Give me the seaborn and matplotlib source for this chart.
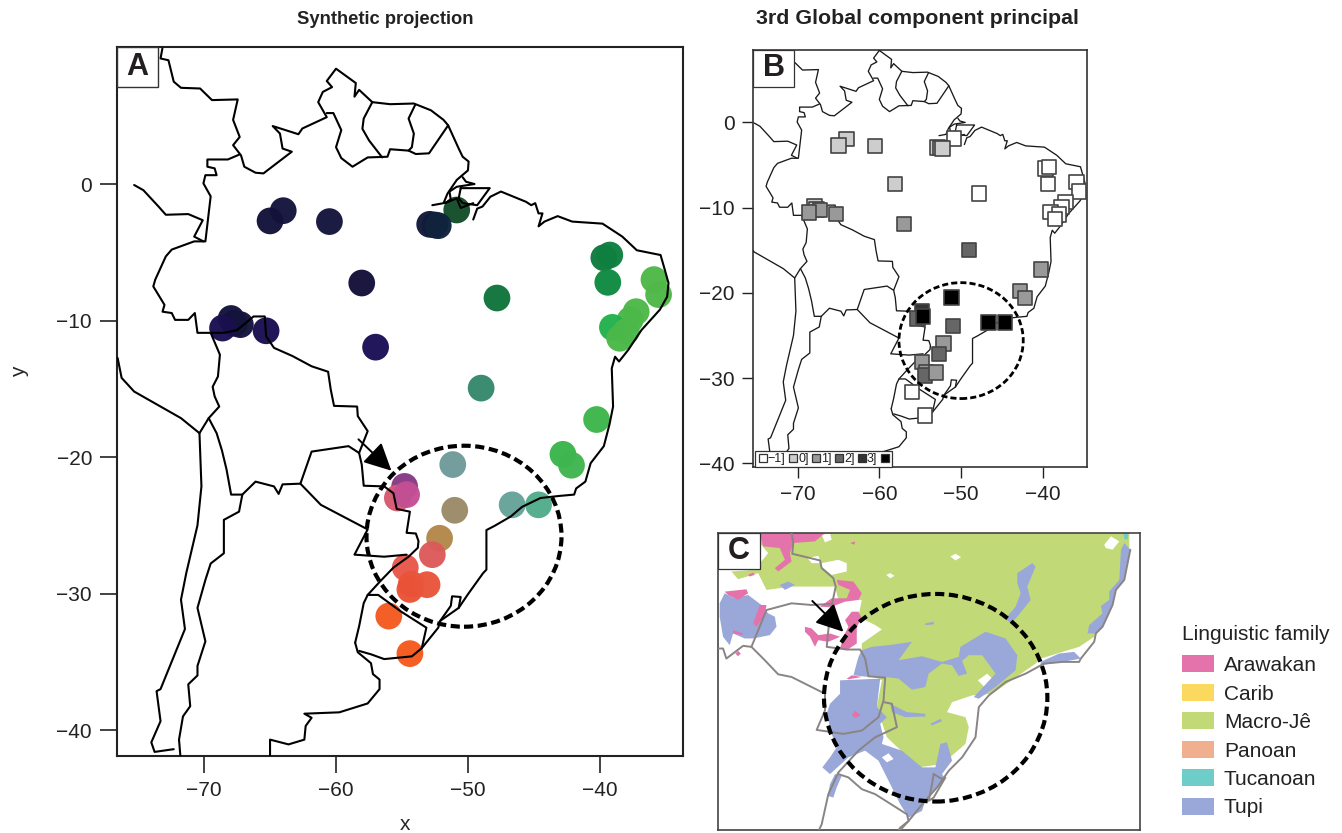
import matplotlib
matplotlib.use("Agg")
import matplotlib.pyplot as plt
import seaborn as sns
from matplotlib.lines import Line2D
from matplotlib.patches import Ellipse, Patch, Rectangle

W, H = 1342, 833

# sampled sites: position, colour in panel A, class in panel B
site_lon = [-64.0, -65.0, -60.5, -50.85, -52.9, -52.5, -52.25, -39.7, -39.25, -39.4, -58.05,
            -47.8, -35.9, -35.55, -37.25, -37.7, -39.05, -38.0, -38.5, -67.95, -67.7,
            -67.25, -68.6, -65.3, -57.0, -49.0, -40.25, -42.8, -42.15, -51.15, -54.8,
            -55.35, -54.65, -51.0, -46.65, -44.65, -52.15, -52.7, -54.75, -54.3, -54.4,
            -53.1, -56.0, -54.4]
site_lat = [-1.95, -2.7, -2.75, -1.9, -2.95, -3.0, -3.05, -5.4, -5.2, -7.2, -7.25,
            -8.35, -7.0, -8.1, -9.35, -9.95, -10.5, -10.8, -11.3, -9.85, -10.2,
            -10.3, -10.55, -10.75, -11.95, -14.95, -17.25, -19.8, -20.6, -20.55, -22.15,
            -23.0, -22.75, -23.9, -23.5, -23.5, -25.95, -27.15, -28.1, -29.3, -29.7,
            -29.35, -31.65, -34.4]
site_colour = ["#14143c", "#12123a", "#14143c", "#134d29", "#101a3a", "#101c3a", "#10233d",
               "#0f7a3e", "#0f8040", "#0e8a42", "#140f38", "#10743c", "#4fb848", "#4fb848",
               "#4db848", "#4bb849", "#22b14c", "#4bb849", "#4bb849", "#12123c", "#12123c",
               "#14143c", "#1a0f50", "#1a0f50", "#190f55", "#34886c", "#3db54a", "#3ab54a",
               "#3fb54f", "#6f9a9b", "#873b85", "#d55a70", "#c34f95", "#9c8a68", "#66a39a",
               "#52ad8c", "#b3874a", "#dc5a5a", "#e8584a", "#e9553c", "#ea5236", "#e9553a",
               "#f35a20", "#f55a1e"]
site_class = [1, 1, 1, 0, 1, 1, 1, 0, 0, 0, 1, 0, 0, 0, 0, 0, 0, 0, 0, 1, 1,
              2, 2, 2, 2, 3, 2, 2, 2, 5, 4, 3, 5, 3, 5, 5, 2, 3, 2, 2, 3, 2, 0, 0]
class_labels = ["\u22121]", "0]", "1]", "2]", "3]", ""]
class_colours = ["#ffffff", "#cdcdcd", "#999999", "#666666", "#333333", "#000000"]

# country borders and coast, lon/lat
north_border = [(-73.16, 9.93), (-73.3, 9.2), (-72.7, 9.07), (-72.3, 7.5), (-71.75, 7.05), (-70.3, 7.0),
                (-69.4, 6.15), (-67.45, 6.2), (-67.8, 4.7), (-67.3, 3.45), (-67.8, 2.85), (-67.2, 2.1),
                (-66.95, 1.27), (-66.1, 0.83), (-65.5, 0.78), (-63.35, 2.37), (-64.05, 2.6), (-64.25, 3.7),
                (-64.8, 4.25), (-62.85, 3.65), (-62.55, 4.07), (-60.7, 4.9), (-61.35, 6.0), (-61.0, 6.75),
                (-60.3, 7.1), (-60.7, 7.55), (-60.0, 8.45), (-58.5, 7.4), (-58.6, 6.4), (-58.25, 6.9),
                (-57.25, 6.0), (-55.9, 5.85), (-54.1, 5.9), (-52.8, 5.4), (-51.85, 4.7), (-51.5, 4.3),
                (-50.7, 2.6), (-50.4, 2.0), (-49.95, 1.65), (-50.0, 1.0), (-50.85, 0.3), (-51.55, -0.7),
                (-51.85, -1.4), (-52.7, -1.55)]
guianas_south = [(-60.7, 5.2), (-60.2, 5.2), (-59.6, 3.95), (-60.0, 2.7), (-59.6, 1.9), (-58.75, 1.27),
                 (-57.6, 1.95), (-56.1, 2.0), (-55.9, 2.55), (-54.5, 2.45), (-53.95, 2.2), (-52.95, 2.25),
                 (-51.5, 4.3)]
guyana_suriname = [(-57.25, 6.0), (-57.9, 4.8), (-58.0, 4.05), (-57.5, 3.2), (-56.5, 1.95)]
suriname_guiana = [(-54.0, 5.8), (-54.5, 4.8), (-54.1, 3.7), (-54.25, 2.7), (-54.5, 2.45)]
marajo = [(-50.55, -0.3), (-48.35, -0.3), (-49.3, -1.55), (-50.4, -1.4), (-50.7, -1.05), (-50.55, -0.3)]
amazon_mouth = [(-50.4, 0.5), (-50.15, 0.17), (-49.5, 0.0), (-50.85, -0.2), (-51.4, -0.55), (-51.3, -1.15),
                (-51.75, -1.4), (-50.85, -1.05), (-50.55, -1.75), (-49.6, -1.4)]
brazil_coast = [(-49.6, -2.6), (-49.3, -1.8), (-48.9, -1.65), (-48.3, -0.93), (-47.5, -0.55), (-45.6, -1.3),
                (-45.2, -1.55), (-44.9, -1.4), (-44.65, -2.15), (-44.35, -2.15), (-44.65, -3.1), (-44.2, -2.75),
                (-43.2, -2.35), (-42.1, -2.75), (-39.8, -2.9), (-38.3, -3.85), (-37.2, -4.85), (-35.4, -5.2),
                (-35.0, -6.55), (-34.8, -7.25), (-34.9, -8.25), (-35.45, -9.2), (-36.85, -10.7), (-37.85, -12.15),
                (-38.55, -13.0), (-38.85, -12.65), (-39.1, -13.5), (-39.0, -16.3), (-39.27, -17.6), (-39.7, -19.2),
                (-40.7, -20.45), (-41.1, -21.8), (-41.8, -22.3), (-41.95, -22.75), (-43.1, -22.85), (-44.5, -23.0),
                (-45.9, -23.65), (-46.75, -24.35), (-48.0, -25.05), (-48.6, -25.35), (-48.6, -28.25), (-48.85, -28.5),
                (-50.0, -30.05), (-50.7, -31.05), (-52.1, -32.0), (-52.25, -32.5), (-53.5, -34.0), (-54.25, -34.6),
                (-56.35, -34.8), (-57.35, -34.45), (-58.25, -34.2)]
argentina_coast = [(-58.55, -33.6), (-58.35, -34.3), (-57.35, -35.1), (-57.2, -35.9), (-56.7, -36.3), (-56.7, -37.0),
                   (-57.6, -38.05), (-59.75, -38.7), (-62.4, -38.8), (-61.85, -39.1), (-62.3, -39.7), (-62.4, -40.7),
                   (-63.6, -41.05), (-65.0, -40.7), (-65.0, -41.85)]
uruguay_border = [(-58.55, -33.6), (-58.25, -32.4), (-57.9, -30.7), (-57.6, -30.1), (-56.8, -30.1), (-55.1, -31.3),
                  (-53.15, -32.5), (-53.5, -34.0)]
lagoon = [(-52.1, -32.0), (-51.3, -30.9), (-51.2, -30.2), (-50.55, -30.25), (-50.7, -31.05)]
west_brazil = [(-57.6, -30.1), (-56.65, -29.1), (-55.65, -28.1), (-54.5, -27.3), (-53.8, -26.65), (-53.75, -26.15),
               (-53.95, -25.6), (-54.65, -25.55), (-54.4, -24.0), (-55.4, -23.8), (-55.65, -22.65), (-56.35, -22.15),
               (-57.9, -22.1), (-58.05, -20.55), (-58.25, -19.7), (-57.6, -18.1), (-58.35, -17.0), (-58.4, -16.3),
               (-60.15, -16.25), (-60.4, -15.05), (-60.6, -13.75), (-61.85, -13.35), (-63.3, -12.6), (-64.7, -12.0),
               (-65.3, -11.15), (-65.4, -9.7), (-66.25, -9.7), (-67.5, -10.7), (-68.5, -10.9), (-70.5, -10.9),
               (-70.7, -9.45), (-71.2, -9.95), (-72.2, -9.95), (-72.45, -9.45), (-73.15, -9.35), (-73.0, -8.85),
               (-73.85, -7.5), (-73.7, -7.0), (-72.9, -5.3), (-72.45, -4.8), (-70.75, -4.2), (-69.9, -4.2),
               (-69.5, -0.9), (-70.05, 0.05), (-69.9, 0.65), (-69.05, 0.65), (-69.2, 1.15), (-69.75, 1.27),
               (-69.75, 1.8), (-68.2, 1.8), (-67.35, 2.15)]
peru_colombia = [(-75.3, -0.07), (-74.6, -0.45), (-73.45, -1.65), (-72.9, -2.25), (-71.2, -2.2), (-70.1, -2.65),
                 (-70.75, -3.85), (-70.05, -4.2)]
bolivia_west = [(-69.5, -10.9), (-68.8, -12.5), (-68.95, -14.1), (-69.35, -14.85), (-69.2, -15.55), (-68.85, -16.3),
                (-69.65, -17.15), (-69.05, -18.25), (-68.65, -19.5), (-68.3, -20.9), (-67.95, -22.75), (-67.1, -22.75),
                (-66.1, -21.8), (-64.7, -22.15), (-64.35, -22.7), (-64.05, -22.0), (-62.7, -21.95), (-61.85, -19.6),
                (-59.05, -19.2), (-58.25, -19.7)]
paraguay_south = [(-62.7, -21.95), (-61.15, -23.5), (-57.6, -25.3), (-58.25, -26.5), (-58.6, -27.15), (-56.35, -27.3),
                  (-54.65, -27.15)]
andes_border = [(-67.1, -22.75), (-67.35, -24.0), (-68.5, -24.6), (-68.5, -27.05), (-69.5, -27.8), (-69.9, -29.0),
                (-70.5, -31.05), (-69.9, -33.5), (-70.5, -35.3), (-70.5, -36.0), (-71.2, -36.65), (-71.05, -38.25),
                (-71.6, -39.0), (-71.9, -40.7), (-71.8, -41.85)]
chile_coast = [(-70.35, -18.25), (-70.2, -22.15), (-70.5, -25.0), (-71.35, -28.5), (-71.75, -30.45), (-71.45, -32.6),
               (-73.3, -37.0), (-73.6, -37.15), (-73.3, -39.35), (-74.0, -40.9), (-73.75, -41.6), (-72.3, -41.4)]
peru_coast = [(-76.55, -12.75), (-76.25, -14.2), (-75.3, -15.2), (-71.75, -17.15), (-70.35, -18.25), (-69.65, -17.15)]
borders = [north_border, guianas_south, guyana_suriname, suriname_guiana, marajo, amazon_mouth, brazil_coast,
           argentina_coast, uruguay_border, lagoon, west_brazil, peru_colombia, bolivia_west, paraguay_south,
           andes_border, chile_coast, peru_coast]

# panel C language areas
macro_je = [(-61.7, -15.55), (-61.2, -16.15), (-62.0, -17.15), (-63.4, -17.25), (-63.0, -17.71), (-61.8, -17.35),
            (-61.5, -17.95), (-61.3, -18.35), (-59.8, -18.15), (-57.2, -18.15), (-57.0, -18.95), (-55.6, -18.95),
            (-55.8, -19.95), (-54.8, -20.45), (-54.4, -20.71), (-55.6, -21.55), (-55.6, -23.15), (-54.4, -23.75),
            (-54.7, -25.35), (-54.1, -27.15), (-52.2, -28.95), (-50.8, -28.75), (-49.4, -27.55), (-49.2, -26.55),
            (-49.4, -25.95), (-50.5, -25.65), (-50.2, -25.05), (-49.0, -24.65), (-47.8, -24.55), (-45.2, -22.75),
            (-44.9, -22.45), (-42.6, -21.75), (-41.7, -21.15), (-41.0, -19.95), (-40.6, -18.45), (-40.0, -17.75),
            (-39.6, -15.95), (-39.6, -14.95), (-61.6, -14.95)]
blank_areas = [
    [(-50.3, -16.35), (-50.0, -16.19), (-49.66, -16.39), (-50.0, -16.59)],
    [(-54.14, -17.45), (-53.9, -17.35), (-53.64, -17.51), (-53.9, -17.65)],
    [(-41.1, -15.65), (-40.7, -15.15), (-40.2, -15.45), (-40.6, -15.95), (-41.0, -15.85)],
    [(-58.84, -16.45), (-58.2, -16.31), (-58.04, -16.75), (-58.6, -16.75)],
    [(-58.0, -16.75), (-57.0, -16.55), (-56.5, -16.75), (-56.5, -17.25), (-57.4, -17.45), (-58.0, -16.95)],
    [(-48.66, -23.75), (-48.1, -23.35), (-47.7, -23.75), (-48.1, -24.31)],
    [(-46.7, -22.91), (-46.4, -22.65), (-46.4, -22.85), (-46.6, -22.99)],
    [(-58.0, -15.05), (-57.5, -14.99), (-57.4, -15.35), (-57.8, -15.51)],
]
tupi = [
    [(-56.1, -23.45), (-55.8, -22.35), (-55.6, -21.95), (-55.0, -21.75), (-54.0, -21.65), (-52.6, -21.45),
     (-53.4, -22.55), (-52.0, -22.31), (-50.8, -22.65), (-49.8, -22.35), (-49.7, -21.75), (-48.2, -20.85),
     (-47.0, -21.25), (-46.3, -22.25), (-46.4, -23.15), (-47.6, -24.15), (-48.6, -24.85), (-48.9, -24.75),
     (-47.6, -23.35), (-48.4, -22.25), (-49.2, -22.25), (-49.6, -22.59), (-49.3, -23.35), (-49.8, -23.49),
     (-50.2, -22.85), (-50.8, -22.75), (-51.6, -23.35), (-51.8, -24.15), (-52.6, -24.31), (-53.4, -23.65),
     (-54.2, -23.55), (-55.2, -23.55)],
    [(-56.9, -23.75), (-54.5, -23.65), (-54.7, -25.35), (-54.1, -25.95), (-54.5, -26.35), (-54.3, -27.15),
     (-54.4, -27.55), (-53.2, -27.95), (-52.0, -28.95), (-51.2, -28.95), (-50.9, -27.55), (-50.5, -27.45),
     (-50.2, -28.55), (-50.8, -29.35), (-50.6, -29.65), (-51.8, -30.95), (-52.0, -31.55), (-52.8, -31.95),
     (-53.3, -31.15), (-54.2, -29.35), (-54.6, -28.55), (-55.4, -27.95), (-56.4, -28.35), (-57.5, -29.35),
     (-57.96, -28.95), (-57.5, -28.35), (-57.1, -27.75), (-57.4, -26.95), (-57.7, -25.75), (-57.5, -25.15),
     (-56.9, -24.55)],
    [(-46.3, -17.35), (-45.4, -16.75), (-45.2, -16.95), (-45.7, -18.15), (-45.5, -18.95), (-46.3, -19.95),
     (-46.7, -20.35), (-47.0, -20.05), (-46.4, -19.35), (-46.1, -18.55), (-46.3, -17.95)],
    [(-39.9, -15.55), (-39.54, -15.95), (-39.9, -17.75), (-40.4, -18.35), (-40.6, -19.25), (-41.2, -20.55),
     (-41.6, -20.95), (-42.1, -20.95), (-42.0, -20.45), (-41.2, -19.75), (-41.3, -19.31), (-40.8, -18.95),
     (-40.8, -18.45), (-40.2, -17.75), (-40.1, -15.95)],
    [(-44.9, -22.65), (-43.8, -22.15), (-42.9, -22.05), (-42.5, -22.45), (-43.6, -22.65), (-44.9, -22.85)],
    [(-64.1, -19.15), (-63.8, -18.55), (-63.2, -18.85), (-62.4, -18.65), (-61.6, -19.25), (-61.2, -19.75),
     (-60.8, -19.95), (-60.7, -20.55), (-61.1, -21.05), (-62.1, -21.25), (-62.6, -21.25), (-63.3, -20.95),
     (-63.5, -21.65), (-63.9, -21.15), (-64.1, -19.95)],
    [(-60.5, -18.05), (-60.0, -17.85), (-59.6, -18.05), (-60.2, -18.35)],
    [(-51.8, -20.35), (-51.3, -20.25), (-51.3, -20.41), (-51.8, -20.45)],
    [(-53.9, -25.15), (-52.9, -25.65), (-51.8, -25.75), (-51.8, -25.91), (-53.0, -25.95), (-53.8, -25.65)],
    [(-51.5, -26.35), (-50.9, -26.05), (-50.8, -26.19), (-51.4, -26.45)],
    [(-57.2, -29.35), (-56.8, -29.45), (-57.1, -30.15), (-57.3, -30.75), (-57.64, -30.65), (-57.5, -29.95)],
]
tupi_hole = [(-54.4, -28.35), (-54.0, -28.11), (-53.7, -28.45), (-54.1, -28.65)]
arawakan = [
    [(-61.7, -14.95), (-57.8, -14.95), (-58.4, -15.45), (-59.7, -15.55), (-59.9, -16.15), (-59.8, -16.65),
     (-60.6, -17.25), (-60.8, -17.05), (-60.2, -16.55), (-60.5, -15.85), (-61.5, -15.75)],
    [(-57.1, -17.75), (-56.1, -17.85), (-55.6, -18.55), (-55.8, -18.95), (-56.6, -19.05), (-57.5, -19.39),
     (-58.1, -19.35), (-57.4, -18.85), (-56.5, -18.85), (-56.3, -18.35), (-57.0, -18.05)],
    [(-63.8, -18.45), (-62.5, -18.31), (-62.4, -18.55), (-63.0, -18.95), (-63.6, -18.65)],
    [(-61.7, -19.25), (-61.3, -19.25), (-61.4, -19.85), (-61.9, -20.55), (-62.1, -20.35)],
    [(-63.3, -20.75), (-62.7, -20.95), (-62.8, -21.05), (-63.3, -20.95)],
    [(-56.6, -20.15), (-56.2, -19.65), (-55.8, -19.65), (-55.6, -20.05), (-55.9, -20.55), (-55.9, -21.55),
     (-56.5, -21.95), (-56.9, -21.85), (-56.7, -21.15), (-56.4, -20.55)],
    [(-59.0, -20.55), (-58.6, -20.65), (-58.2, -21.05), (-57.5, -20.95), (-56.9, -21.15), (-57.6, -21.45),
     (-58.2, -21.35), (-58.4, -21.75), (-58.7, -21.15), (-59.0, -20.85)],
    [(-56.5, -23.65), (-56.2, -23.45), (-55.6, -23.55), (-56.4, -23.69)],
    [(-56.2, -25.85), (-56.0, -25.55), (-55.66, -25.85), (-56.0, -25.99)],
    [(-62.4, -17.45), (-62.1, -17.31), (-62.0, -17.45), (-62.3, -17.55)],
    [(-56.3, -15.55), (-56.0, -15.45), (-56.04, -15.65)],
    [(-63.16, -22.15), (-63.0, -21.99), (-62.84, -22.15), (-63.0, -22.31)],
]
tucanoan = [(-39.96, -14.95), (-39.66, -14.95), (-39.7, -15.35), (-39.9, -15.31)]

# panel C borders (own projection)
c_inland = [(-59.8, -14.95), (-59.7, -15.55), (-59.76, -16.19), (-58.1, -16.59), (-58.0, -17.05), (-57.3, -17.65),
            (-57.16, -18.15), (-57.5, -19.75), (-57.7, -21.75), (-56.5, -21.91), (-55.7, -21.91), (-55.4, -22.45),
            (-55.2, -23.51), (-54.2, -23.59), (-54.3, -24.95), (-54.6, -25.95), (-55.6, -26.75), (-56.7, -26.95),
            (-58.3, -26.71), (-57.8, -25.55), (-57.8, -24.55), (-58.8, -24.05), (-59.8, -23.55), (-60.6, -23.39),
            (-61.4, -22.55), (-62.2, -21.75), (-62.7, -21.69), (-63.7, -22.45), (-63.9, -21.85), (-64.2, -21.85)]
c_paraguay = [(-62.2, -21.75), (-61.3, -19.55), (-59.8, -19.15), (-58.6, -19.25), (-57.5, -19.19)]
c_argentina = [(-54.3, -25.05), (-53.8, -25.15), (-53.5, -26.55), (-54.8, -27.15), (-55.8, -27.95), (-57.0, -29.25),
               (-57.6, -30.55), (-58.0, -32.35), (-58.16, -32.69)]
c_uruguay = [(-57.0, -29.35), (-56.4, -29.55), (-55.6, -30.25), (-54.8, -30.55), (-52.9, -31.75), (-52.8, -32.15),
             (-53.3, -32.55), (-53.4, -32.69)]
c_coast = [(-39.54, -15.95), (-39.9, -17.75), (-40.4, -18.35), (-40.6, -19.25), (-41.2, -20.55), (-41.6, -20.95),
           (-41.7, -21.45), (-42.5, -22.45), (-42.6, -22.65), (-43.6, -22.65), (-44.7, -22.75), (-45.8, -23.35),
           (-47.0, -23.85), (-48.0, -24.65), (-48.6, -25.35), (-48.8, -27.15), (-49.6, -28.35), (-50.4, -29.15),
           (-51.1, -30.15), (-51.9, -31.05), (-52.8, -32.15), (-53.3, -32.69)]
c_lagoon = [(-51.3, -29.35), (-50.8, -29.65), (-50.6, -29.55), (-51.3, -30.75), (-51.6, -30.95), (-51.4, -29.95),
            (-51.3, -29.35)]
c_borders = [c_inland, c_paraguay, c_argentina, c_uruguay, c_coast, c_lagoon]

family_names = ["Arawakan", "Carib", "Macro-J\u00ea", "Panoan", "Tucanoan", "Tupi"]
family_colours = ["#e573ab", "#fbd95f", "#c2d978", "#f0b090", "#6fcdc9", "#99a8d8"]

x_ticks = [-70, -60, -50, -40]
y_ticks_a = [0, -10, -20, -30, -40]
y_ticks_b = [0, -10, -20, -30, -40]

sns.set_theme(style="ticks")
plt.rcParams["font.family"] = ["Liberation Sans", "DejaVu Sans"]
plt.rcParams["text.color"] = "#222222"
plt.rcParams["xtick.color"] = "#222222"
plt.rcParams["ytick.color"] = "#222222"


def make_axes(fig, left, top, right, bottom):
    return fig.add_axes([left / W, 1 - bottom / H, (right - left) / W, (bottom - top) / H])


def draw_line(ax, points, colour, lw):
    lon = [p[0] for p in points]
    lat = [p[1] for p in points]
    sns.lineplot(x=lon, y=lat, sort=False, estimator=None, color=colour, linewidth=lw, ax=ax, zorder=3)


def fill_area(ax, points, colour, z):
    ax.fill([p[0] for p in points], [p[1] for p in points], color=colour, linewidth=0, zorder=z)


def panel_label(ax, text, box_w, box_h, lw):
    ax.add_patch(Rectangle((0, 1 - box_h), box_w, box_h, transform=ax.transAxes, facecolor="white",
                           edgecolor="#333333", linewidth=lw, zorder=8))
    ax.text(box_w / 2, 1 - box_h / 2, text, transform=ax.transAxes, ha="center", va="center",
            fontsize=22, fontweight="bold", color="#231f20", zorder=9)


def dashed_circle(ax, centre, width, height, lw):
    ax.add_patch(Ellipse(centre, width, height, fill=False, edgecolor="black", linewidth=lw,
                         linestyle=(0, (2.2, 1.1)), zorder=6))


def big_arrow(ax, start, end, scale):
    ax.annotate("", xy=end, xytext=start, zorder=7,
                arrowprops=dict(arrowstyle="-|>", color="black", lw=1.4, mutation_scale=scale,
                                shrinkA=0, shrinkB=0))


fig = plt.figure(figsize=(W / 100, H / 100), dpi=100, facecolor="white")

# panel A
ax_a = make_axes(fig, 117, 47, 683, 756)
sns.scatterplot(x=site_lon, y=site_lat, hue=list(range(len(site_lon))), palette=site_colour, s=370,
                linewidth=0, alpha=0.97, legend=False, ax=ax_a, zorder=2)
for line in borders:
    draw_line(ax_a, line, "black", 1.5)
dashed_circle(ax_a, (-50.3, -25.8), 14.78, 13.26, 3.0)
big_arrow(ax_a, (-58.3, -18.7), (-55.8, -21.0), 42)
ax_a.set_xlim(-76.6, -33.7)
ax_a.set_ylim(-41.9, 10.04)
ax_a.set_xticks(x_ticks)
ax_a.set_yticks(y_ticks_a)
ax_a.tick_params(length=12, width=1.2, labelsize=15, pad=6)
ax_a.set_xlabel("x", fontsize=15)
ax_a.set_ylabel("y", fontsize=15)
ax_a.xaxis.set_label_coords(0.509, -0.083)
ax_a.yaxis.set_label_coords(-0.155, 0.542)
for s in ax_a.spines.values():
    s.set_linewidth(1.5)
    s.set_color("#222222")
panel_label(ax_a, "A", 41 / 566, 40 / 709, 1.0)
fig.text(385 / W, 1 - 19 / H, "Synthetic projection", ha="center", va="center", fontsize=13.2, fontweight="bold")

# panel B
ax_b = make_axes(fig, 753, 50, 1087, 467)
for line in borders:
    draw_line(ax_b, line, "#1a1a1a", 0.95)
sns.scatterplot(x=site_lon, y=site_lat, hue=[class_labels[c] for c in site_class], hue_order=class_labels,
                palette=class_colours, marker="s", s=108, edgecolor="#444444", linewidth=1.2, legend=False,
                ax=ax_b, zorder=4)
dashed_circle(ax_b, (-50.0, -25.6), 15.2, 13.6, 2.0)
ax_b.set_xlim(-75.45, -34.6)
ax_b.set_ylim(-40.43, 8.5)
ax_b.set_xticks(x_ticks)
ax_b.set_yticks(y_ticks_b)
ax_b.tick_params(length=8, width=1.0, labelsize=15, pad=5)
ax_b.set_xlabel("")
ax_b.set_ylabel("")
for s in ax_b.spines.values():
    s.set_linewidth(1.2)
    s.set_color("#333333")
class_handles = [Line2D([], [], linestyle="", marker="s", markersize=5.5, markerfacecolor=c,
                        markeredgecolor="#333333", markeredgewidth=0.9) for c in class_colours]
leg_b = ax_b.legend(class_handles, class_labels, ncols=6, loc="lower left", bbox_to_anchor=(0.005, 0.0),
                    borderaxespad=0, fontsize=9, frameon=True, fancybox=False, edgecolor="#333333",
                    framealpha=1, borderpad=0.15, handletextpad=-0.1, columnspacing=0.1, handlelength=1.0)
leg_b.get_frame().set_linewidth(0.9)
leg_b.set_zorder(7)
panel_label(ax_b, "B", 41 / 334, 37 / 417, 0.9)
fig.text(917 / W, 1 - 19 / H, "3rd Global component principal", ha="center", va="center", fontsize=15.4,
         fontweight="bold")

# panel C
ax_c = make_axes(fig, 718, 533, 1140, 830)
fill_area(ax_c, macro_je, family_colours[2], 1)
for area in blank_areas:
    fill_area(ax_c, area, "white", 1.2)
for area in tupi:
    fill_area(ax_c, area, family_colours[5], 1.5)
fill_area(ax_c, tupi_hole, "white", 1.6)
for area in arawakan:
    fill_area(ax_c, area, family_colours[0], 1.8)
fill_area(ax_c, tucanoan, family_colours[4], 1.8)
for line in c_borders:
    draw_line(ax_c, line, "#8a8484", 1.4)
dashed_circle(ax_c, (-51.18, -24.79), 13.36, 12.4, 3.0)
big_arrow(ax_c, (-58.56, -19.01), (-56.7, -20.85), 42)
ax_c.set_xlim(-64.2, -38.96)
ax_c.set_ylim(-32.69, -14.95)
ax_c.set_xticks([])
ax_c.set_yticks([])
ax_c.set_xlabel("")
ax_c.set_ylabel("")
for s in ax_c.spines.values():
    s.set_linewidth(1.2)
    s.set_color("#444444")
panel_label(ax_c, "C", 42 / 422, 36 / 297, 0.9)

family_handles = [Patch(facecolor=c, edgecolor="none") for c in family_colours]
leg_c = fig.legend(family_handles, family_names, title="Linguistic family", loc="upper left",
                   bbox_to_anchor=(1174 / W, 1 - 617 / H), frameon=False, fontsize=15, title_fontsize=15,
                   handlelength=1.5, handleheight=0.88, labelspacing=0.42, handletextpad=0.5, alignment="left",
                   borderaxespad=0)
leg_c._legend_box.sep = 8

fig.savefig("out.png", dpi=100)
